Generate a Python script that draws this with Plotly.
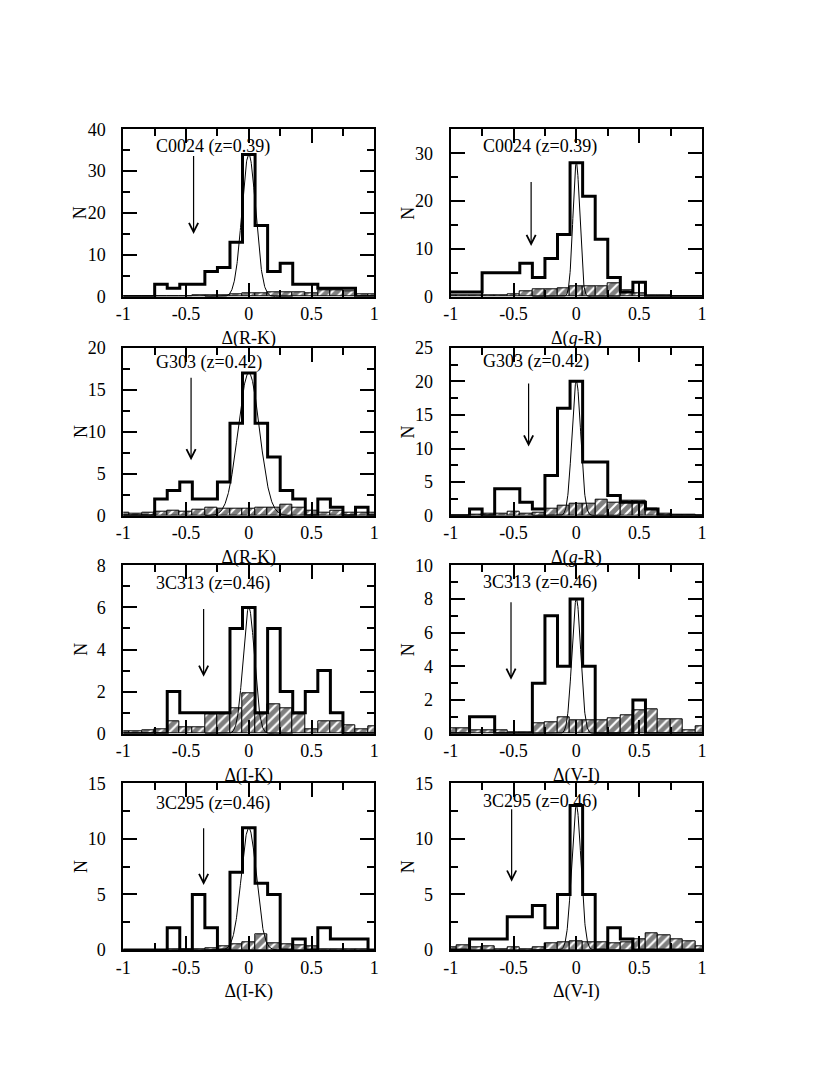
import numpy as np
import plotly.graph_objects as go

# ---------------- data ----------------
bin_centers = [-1.0, -0.9, -0.8, -0.7, -0.6, -0.5, -0.4, -0.3, -0.2, -0.1, 0.0,
               0.1, 0.2, 0.3, 0.4, 0.5, 0.6, 0.7, 0.8, 0.9, 1.0]
BIN_WIDTH = 0.1

# C0024 (z=0.39), Delta(R-K)
c0024_rk_all = [0, 0, 0, 3, 2, 3, 3, 6, 7, 13, 34, 17, 6, 8, 3, 3, 2, 2, 2, 0, 0]
c0024_rk_field = [0, 0, 0, 0, 0, 0.1, 0.4, 0.4, 0.4, 0.5, 0.7, 0.8, 1.0, 1.0, 1.0, 0.9, 1.5, 1.6, 1.3, 0.6, 0.5]
# C0024 (z=0.39), Delta(g-R)
c0024_gr_all = [1, 1, 1, 5, 5, 5, 7, 4, 8, 13, 28, 21, 12, 4, 1, 3, 0, 0, 0, 0, 0]
c0024_gr_field = [0.3, 0.3, 0.2, 0.2, 0.3, 0.6, 1.2, 1.6, 1.6, 1.8, 2.1, 2.1, 2.1, 2.8, 1.4, 0.7, 0.3, 0.2, 0.1, 0.1, 0]
# G303 (z=0.42), Delta(R-K)
g303_rk_all = [0, 0, 0, 2, 3, 4, 2, 2, 4, 11, 17, 11, 7, 3, 2, 0, 2, 1, 0, 1, 0]
g303_rk_field = [0.3, 0.2, 0.3, 0.5, 0.6, 0.5, 0.7, 1.0, 0.8, 0.8, 0.8, 1.0, 1.0, 1.3, 1.0, 0.6, 0.4, 0.6, 0.4, 0.4, 0.4]
# G303 (z=0.42), Delta(g-R)
g303_gr_all = [0, 0, 1, 0, 4, 4, 2, 1, 6, 16, 20, 8, 8, 3, 2, 2, 1, 0, 0, 0, 0]
g303_gr_field = [0, 0, 0.1, 0.3, 0.3, 0.6, 0.3, 0.5, 1.0, 1.5, 1.8, 1.8, 2.4, 2.0, 2.2, 2.3, 1.0, 0.3, 0.2, 0.1, 0]
# 3C313 (z=0.46), Delta(I-K)
c3c313_ik_all = [0, 0, 0, 0, 2, 1, 1, 1, 1, 5, 6, 1, 5, 2, 1, 2, 3, 1, 0, 0, 0]
c3c313_ik_field = [0.1, 0.1, 0.15, 0.2, 0.6, 0.3, 0.3, 0.9, 0.9, 1.2, 1.9, 0.9, 1.4, 1.2, 0.9, 0.2, 0.6, 0.6, 0.4, 0.2, 0.35]
# 3C313 (z=0.46), Delta(V-I)
c3c313_vi_all = [0, 0, 1, 1, 0, 0, 0, 3, 7, 4, 8, 4, 0, 0, 0, 2, 0, 0, 0, 0, 0]
c3c313_vi_field = [0.3, 0.3, 0.2, 0.2, 0.2, 0.1, 0.1, 0.6, 0.7, 1.0, 0.8, 0.8, 0.8, 0.9, 1.1, 1.4, 1.45, 0.85, 0.85, 0.2, 0.45]
# 3C295 (z=0.46), Delta(I-K)
c3c295_ik_all = [0, 0, 0, 0, 2, 0, 5, 2, 0, 7, 11, 6, 5, 0, 1, 0, 2, 1, 1, 1, 0]
c3c295_ik_field = [0, 0, 0, 0, 0.1, 0.1, 0.1, 0.15, 0.3, 0.5, 0.7, 1.45, 0.6, 0.5, 0.45, 0.3, 0.1, 0.1, 0.05, 0.05, 0]
# 3C295 (z=0.46), Delta(V-I)
c3c295_vi_all = [0, 0, 1, 1, 1, 3, 3, 4, 2, 5, 13, 5, 0, 2, 1, 0, 0, 0, 0, 0, 0]
c3c295_vi_field = [0.2, 0.4, 0.2, 0.3, 0.1, 0.2, 0.1, 0.2, 0.6, 0.7, 0.8, 0.7, 0.7, 0.6, 0.7, 1.0, 1.5, 1.3, 1.0, 0.8, 0.3]

# Gaussian fits (amplitude, sigma), centred on zero
gauss_amp = [34, 28, 17, 20, 6, 8, 11, 13]
gauss_sigma = [0.055, 0.027, 0.085, 0.035, 0.045, 0.035, 0.06, 0.037]

cluster_labels = ["C0024 (z=0.39)", "C0024 (z=0.39)", "G303 (z=0.42)", "G303 (z=0.42)",
                  "3C313 (z=0.46)", "3C313 (z=0.46)", "3C295 (z=0.46)", "3C295 (z=0.46)"]
x_titles = ["Δ(R-K)", "Δ(<i>g</i>-R)", "Δ(R-K)", "Δ(<i>g</i>-R)",
            "Δ(I-K)", "Δ(V-I)", "Δ(I-K)", "Δ(V-I)"]
y_title = "N"
# arrow: x position, tail y, head y
arrow_x = [-0.44, -0.36, -0.46, -0.38, -0.36, -0.52, -0.36, -0.515]
arrow_tail = [34, 24.3, 16.6, 19.9, 6.0, 7.9, 11.1, 12.8]
arrow_head = [15, 10.6, 6.6, 10.3, 2.7, 3.2, 5.85, 6.15]
label_y = [35.9, 31.4, 18.2, 22.9, 7.13, 8.95, 13.2, 13.35]

y_max = [40, 35, 20, 25, 8, 10, 15, 15]
y_major = [[0, 10, 20, 30, 40], [0, 10, 20, 30], [0, 5, 10, 15, 20], [0, 5, 10, 15, 20, 25],
           [0, 2, 4, 6, 8], [0, 2, 4, 6, 8, 10], [0, 5, 10, 15], [0, 5, 10, 15]]
y_minor_step = [5, 5, 2.5, 2.5, 1, 1, 2.5, 2.5]
x_tickvals = [-1, -0.5, 0, 0.5, 1]
x_ticktext = ["-1", "-0.5", "0", "0.5", "1"]

all_counts = [c0024_rk_all, c0024_gr_all, g303_rk_all, g303_gr_all,
              c3c313_ik_all, c3c313_vi_all, c3c295_ik_all, c3c295_vi_all]
field_counts = [c0024_rk_field, c0024_gr_field, g303_rk_field, g303_gr_field,
                c3c313_ik_field, c3c313_vi_field, c3c295_ik_field, c3c295_vi_field]

# ---------------- layout geometry ----------------
W, H = 830, 1075
PAGE_OFF = 8  # browser body margin
col_px = [(123.3, 374.3), (450.7, 702.0)]
row_px = [(129.3, 296.7), (347.7, 515.7), (565.3, 733.7), (783.3, 950.0)]

FONT = "Liberation Serif"
fig = go.Figure()
centers = np.array(bin_centers)

for i in range(8):
    r, c = divmod(i, 2)
    xa = "x" if i == 0 else f"x{i+1}"
    ya = "y" if i == 0 else f"y{i+1}"

    # field (hatched) histogram
    fig.add_trace(go.Bar(
        x=bin_centers, y=field_counts[i], width=BIN_WIDTH,
        xaxis=xa, yaxis=ya, showlegend=False,
        marker=dict(color="white", line=dict(color="black", width=1),
                    pattern=dict(shape="/", fgcolor="black", bgcolor="white",
                                 size=7, solidity=0.7)),
    ))
    # gaussian fit
    gx = np.linspace(-0.35, 0.35, 351)
    gy = gauss_amp[i] * np.exp(-0.5 * (gx / gauss_sigma[i]) ** 2)
    fig.add_trace(go.Scatter(x=gx, y=gy, mode="lines", xaxis=xa, yaxis=ya,
                             line=dict(color="black", width=1), showlegend=False))
    # cluster histogram as a step outline
    vals = np.array(all_counts[i], dtype=float)
    sx = np.column_stack([centers - BIN_WIDTH / 2, centers + BIN_WIDTH / 2]).ravel()
    sy = np.repeat(vals, 2)
    fig.add_trace(go.Scatter(x=sx, y=sy, mode="lines", xaxis=xa, yaxis=ya,
                             line=dict(color="black", width=3), showlegend=False))

    x0, x1 = (p - PAGE_OFF for p in col_px[c])
    yt, yb = (p - PAGE_OFF for p in row_px[r])
    axis_common = dict(showline=True, linecolor="black", linewidth=2, mirror="allticks",
                       ticks="inside", ticklen=14, tickwidth=1.5, tickcolor="black",
                       showgrid=False, zeroline=False, automargin=False,
                       tickfont=dict(family=FONT, size=18, color="black"))
    fig.layout[("xaxis" if i == 0 else f"xaxis{i+1}")] = dict(
        axis_common, domain=[x0 / W, x1 / W], range=[-1, 1], anchor=ya,
        tickmode="array", tickvals=x_tickvals, ticktext=x_ticktext,
        minor=dict(tickmode="linear", tick0=0, dtick=0.25, ticks="inside",
                   ticklen=7, tickwidth=1.5, tickcolor="black"),
        title=dict(text=x_titles[i], font=dict(family=FONT, size=18, color="black"), standoff=8),
    )
    fig.layout[("yaxis" if i == 0 else f"yaxis{i+1}")] = dict(
        axis_common, domain=[1 - yb / H, 1 - yt / H], range=[0, y_max[i]], anchor=xa,
        tickmode="array", tickvals=y_major[i], ticktext=[str(v) for v in y_major[i]],
        minor=dict(tickmode="linear", tick0=0, dtick=y_minor_step[i], ticks="inside",
                   ticklen=7, tickwidth=1.5, tickcolor="black"),
        ticklabelstandoff=12,
    )
    # y-axis title "N"
    fig.add_annotation(x=0, y=0.5, xref=f"{xa} domain", yref=f"{ya} domain",
                       text=y_title, showarrow=False, textangle=-90,
                       xanchor="center", yanchor="middle", xshift=-43,
                       font=dict(family=FONT, size=18, color="black"))

    fig.add_annotation(x=-0.755, y=label_y[i], xref=xa, yref=ya, text=cluster_labels[i],
                       showarrow=False, xanchor="left", yanchor="middle",
                       font=dict(family=FONT, size=18, color="black"))
    fig.add_annotation(x=arrow_x[i], y=arrow_head[i], ax=arrow_x[i], ay=arrow_tail[i],
                       xref=xa, yref=ya, axref=xa, ayref=ya, text="",
                       showarrow=True, arrowhead=5, arrowsize=1.5, arrowwidth=1.2,
                       arrowcolor="black")

fig.update_layout(width=W, height=H, margin=dict(l=0, r=0, t=0, b=0),
                  paper_bgcolor="white", plot_bgcolor="white", barmode="overlay",
                  bargap=0, showlegend=False)

fig.write_html("out.html")
